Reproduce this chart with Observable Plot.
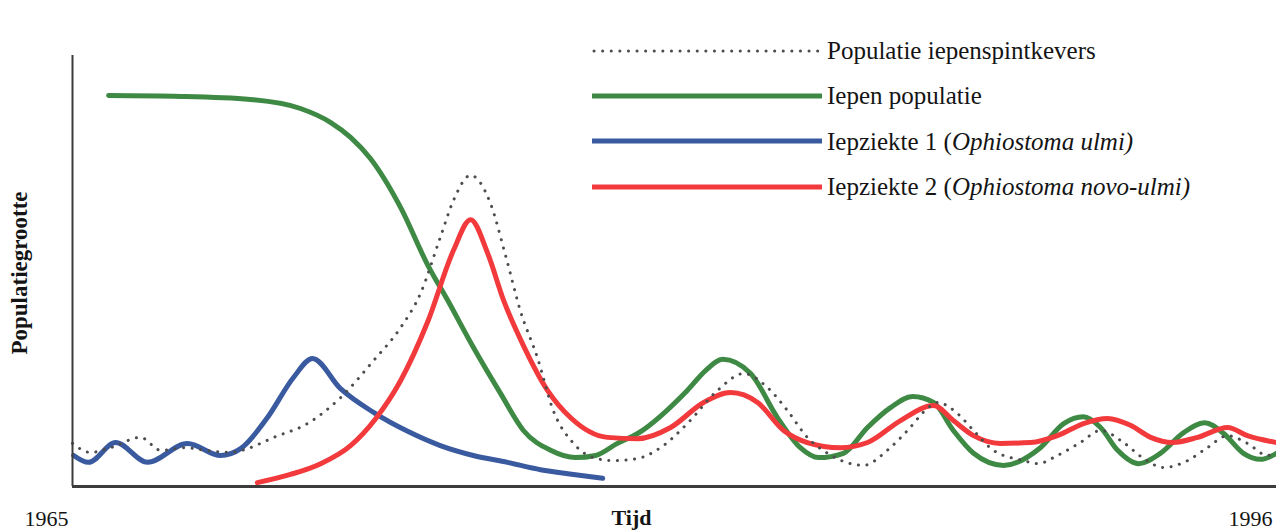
<!DOCTYPE html>
<html>
<head>
<meta charset="utf-8">
<script src="https://cdn.jsdelivr.net/npm/d3@7"></script>
<script src="https://cdn.jsdelivr.net/npm/@observablehq/plot@0.6"></script>
<style>
  body { margin: 0; background: #fff; }
  #wrap { position: relative; width: 1276px; height: 530px; font-family: "Liberation Serif", "Times New Roman", serif; }
  #wrap > svg { position: absolute; left: 0; top: 0; }
  #legend { position: absolute; left: 592px; top: 28px; }
  .row { display: flex; align-items: center; height: 45.3px; }
  .row svg { display: block; margin-right: 3px; }
  .row span { font-size: 25px; line-height: 1; color: #141414; white-space: nowrap; }
</style>
</head>
<body>
<div id="wrap"><div id="legend"></div></div>
<script>
// ---- Data (relative population index 0–100) ----
const beetleYears  = [1965.00,1965.46,1965.98,1966.75,1967.27,1967.91,1968.42,1969.07,1969.51,1970.18,1971.05,1971.90,1972.75,1973.45,1973.96,1974.47,1974.81,1975.25,1975.76,1976.15,1976.53,1976.97,1977.38,1977.90,1978.41,1978.93,1979.55,1980.14,1980.83,1981.61,1982.28,1982.89,1983.41,1983.92,1984.44,1985.37,1985.98,1986.50,1987.01,1987.27,1987.79,1988.20,1988.71,1989.49,1989.85,1990.36,1990.95,1991.47,1992.06,1992.58,1993.09,1993.71,1994.22,1994.74,1995.25,1995.77,1996.00];
const beetleValues = [10.0,7.9,9.0,11.4,8.4,9.0,8.4,7.9,8.8,11.4,14.6,20.6,29.2,36.9,44.8,57.8,66.4,72.2,65.7,53.6,40.8,29.9,17.6,10.0,6.7,6.0,6.5,9.0,14.6,22.3,26.2,23.0,17.6,11.4,7.7,4.9,8.4,13.0,18.1,19.5,16.9,13.0,8.4,6.0,5.3,7.2,10.2,13.0,10.2,6.5,4.4,6.0,9.0,11.8,10.0,7.2,7.9];

const elmYears  = [1965.93,1967.78,1969.58,1970.87,1971.64,1972.16,1972.67,1973.45,1974.14,1974.66,1975.32,1976.02,1976.61,1977.31,1977.95,1978.47,1979.03,1979.55,1980.83,1981.30,1981.74,1982.46,1983.15,1983.74,1984.21,1984.85,1985.47,1986.06,1986.63,1987.17,1987.68,1988.20,1988.97,1989.92,1990.52,1991.03,1991.47,1991.91,1992.45,1993.01,1993.61,1994.15,1994.64,1995.15,1995.59,1996.00];
const elmValues = [90.7,90.5,89.8,87.7,84.5,81.0,76.1,64.7,51.5,43.2,32.3,21.6,13.0,8.4,6.7,7.2,10.0,12.3,22.3,26.9,29.5,26.2,16.0,9.0,6.7,7.7,13.7,18.3,20.9,19.5,13.0,7.7,4.9,9.0,14.6,16.2,13.7,8.4,5.3,7.7,12.5,14.8,12.3,7.7,6.3,7.7];

const ulmiYears  = [1965.03,1965.41,1966.11,1966.93,1967.96,1968.81,1969.33,1970.02,1970.69,1971.18,1971.90,1972.75,1973.63,1974.47,1975.32,1976.20,1977.05,1977.90,1978.65];
const ulmiValues = [7.2,5.6,10.2,5.6,10.0,7.2,8.8,16.0,25.3,29.7,22.7,17.2,12.8,9.5,7.2,5.6,3.9,2.8,1.9];

const novoYears  = [1969.76,1970.61,1971.39,1972.16,1972.81,1973.45,1974.14,1974.81,1975.25,1975.69,1976.10,1976.61,1977.23,1977.82,1978.77,1979.55,1980.40,1981.25,1981.94,1982.64,1983.31,1983.92,1984.77,1985.47,1986.32,1987.17,1987.68,1988.20,1988.89,1989.67,1990.36,1991.03,1991.65,1992.24,1992.76,1993.32,1993.97,1994.74,1995.25,1996.00];
const novoValues = [0.9,2.8,5.3,9.5,15.8,24.6,38.1,54.8,61.9,54.1,43.2,32.7,22.3,16.0,11.4,11.1,13.7,19.5,21.8,19.5,13.0,10.2,9.0,10.2,15.3,18.8,15.3,11.8,10.0,10.2,11.8,14.6,15.8,14.2,11.4,10.2,11.4,13.7,11.8,10.2];

const axisTickLabels = [1965, 1996];
const xAxisLabel = "Tijd";
const yAxisLabel = "Populatiegrootte";

const seriesLabels = {
  beetles: "Populatie iepenspintkevers",
  elms: "Iepen populatie",
  ulmi: "Iepziekte 1 (<i>Ophiostoma ulmi)</i>",
  novo: "Iepziekte 2 (<i>Ophiostoma novo-ulmi)</i>"
};

// ---- Build tables ----
const toRows = (years, values) => years.map((year, i) => ({year, value: values[i]}));
const beetles = toRows(beetleYears, beetleValues);
const elms = toRows(elmYears, elmValues);
const ulmi = toRows(ulmiYears, ulmiValues);
const novo = toRows(novoYears, novoValues);

const colors = {beetles: "#4d4d4d", elms: "#3e8a45", ulmi: "#3a5aa0", novo: "#f23a3c"};
const curve = "monotone-x";

const chart = Plot.plot({
  width: 1276,
  height: 530,
  marginLeft: 72,
  marginRight: 0,
  marginTop: 55,
  marginBottom: 44,
  x: {domain: [1965, 1996], axis: null},
  y: {domain: [0, 100], axis: null},
  style: {fontFamily: "'Liberation Serif', 'Times New Roman', serif", fontSize: "22px", color: "#141414", background: "#fff", overflow: "visible"},
  marks: [
    Plot.line(elms,  {x: "year", y: "value", stroke: colors.elms,  strokeWidth: 5, curve}),
    Plot.line(ulmi,  {x: "year", y: "value", stroke: colors.ulmi,  strokeWidth: 5, curve}),
    Plot.line(novo,  {x: "year", y: "value", stroke: colors.novo,  strokeWidth: 5, curve}),
    Plot.line(beetles, {x: "year", y: "value", stroke: colors.beetles, strokeWidth: 3, strokeDasharray: "0.1 8.5", strokeLinecap: "round", curve}),
    Plot.ruleY([0], {stroke: "#3c3c3c", strokeWidth: 3}),
    Plot.ruleX([1965], {stroke: "#3c3c3c", strokeWidth: 2}),
    Plot.text(axisTickLabels, {x: d => d, frameAnchor: "bottom", dx: -4, dy: 39, textAnchor: "end", text: d => String(d), fontSize: 22, fill: "#141414"}),
    Plot.text([xAxisLabel], {frameAnchor: "bottom", dx: -43, dy: 38, fontWeight: "bold", fontSize: 22, fill: "#141414"}),
    Plot.text([yAxisLabel], {frameAnchor: "left", dx: -53, dy: 2, rotate: -90, textAnchor: "middle", fontWeight: "bold", fontSize: 23, fill: "#141414"})
  ]
});

const wrap = document.getElementById("wrap");
wrap.insertBefore(chart, wrap.firstChild);

// ---- Legend ----
const legend = document.getElementById("legend");
for (const key of ["beetles", "elms", "ulmi", "novo"]) {
  const row = document.createElement("div");
  row.className = "row";
  const dotted = key === "beetles";
  row.innerHTML =
    `<svg width="232" height="10"><line x1="${dotted ? 2 : 0}" x2="230" y1="5" y2="5" stroke="${colors[key]}" stroke-width="${dotted ? 3 : 5}"` +
    (dotted ? ` stroke-dasharray="0.1 8.5" stroke-linecap="round"` : "") + `/></svg>` +
    `<span>${seriesLabels[key]}</span>`;
  legend.appendChild(row);
}
</script>
</body>
</html>
